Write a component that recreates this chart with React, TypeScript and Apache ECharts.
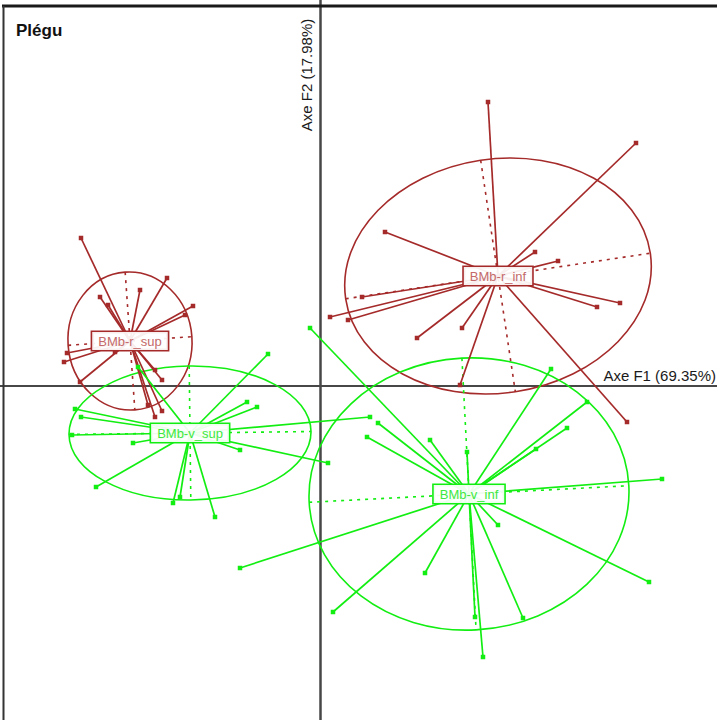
import React, { useEffect, useRef } from "react";
import * as echarts from "echarts";

// Factorial plane coordinates (F1, F2)
const groupNames = ["BMb-r_sup", "BMb-r_inf", "BMb-v_sup", "BMb-v_inf"];
const groupColors = ["#a52a2a", "#a52a2a", "#12ee12", "#12ee12"];
const labelTextColors = ["#c46a6a", "#c46a6a", "#3ee83e", "#3ee83e"];
const centerX = [-1.9, 1.78, -1.3, 1.49];
const centerY = [0.45, 1.1, -0.47, -1.08];
const ellipseRx = [0.62, 1.54, 1.21, 1.6];
const ellipseRy = [0.69, 1.17, 0.67, 1.36];
const ellipseAngle = [4, 8.5, 0.7, 3];

const pointsRSup: [number, number][] = [
  [-2.39, 1.48], [-1.53, 1.08], [-1.8, 0.96], [-2.2, 0.89], [-2.12, 0.81],
  [-1.27, 0.8], [-1.35, 0.71], [-2.53, 0.33], [-2.56, 0.24], [-2.4, 0.04],
  [-2.05, 0.34], [-1.58, 0.06], [-1.65, 0.16], [-1.65, -0.31], [-1.58, -0.25],
  [-1.72, -0.19],
];
const pointsRInf: [number, number][] = [
  [1.68, 2.84], [3.16, 2.43], [0.65, 1.54], [2.15, 1.34], [2.38, 1.25],
  [0.42, 0.89], [0.1, 0.69], [0.28, 0.66], [3.0, 0.83], [2.77, 0.79],
  [1.42, 0.58], [0.97, 0.48], [1.4, 0.01], [3.07, -0.36],
];
const pointsVSup: [number, number][] = [
  [-0.52, 0.32], [-1.82, 0.19], [-0.73, -0.16], [-0.63, -0.21], [-2.45, -0.23],
  [-2.39, -0.31], [-2.48, -0.49], [-1.87, -0.57], [-0.8, -0.64], [0.5, -0.31],
  [0.08, -0.77], [-2.24, -1.01], [-1.47, -1.17], [-1.05, -1.31], [-1.4, -1.11],
];
const pointsVInf: [number, number][] = [
  [-0.1, 0.58], [0.58, -0.37], [0.47, -0.51], [1.1, -0.54], [1.47, -0.66],
  [2.31, 0.17], [2.67, -0.16], [2.47, -0.42], [2.16, -0.63], [3.42, -0.93],
  [1.78, -1.39], [-0.8, -1.82], [1.05, -1.87], [0.13, -2.26], [2.03, -2.32],
  [3.29, -1.96], [1.63, -2.71], [1.55, -2.31],
];
const groupPoints = [pointsRSup, pointsRInf, pointsVSup, pointsVInf];

const xMin = -3.2, xMax = 3.97, yMin = -3.34, yMax = 3.86;
const titleText = "Plégu";
const xAxisTitle = "Axe F1 (69.35%)";
const yAxisTitle = "Axe F2 (17.98%)";

export default function App() {
  const ref = useRef<HTMLDivElement>(null);
  useEffect(() => {
    document.body.style.margin = "0";
    const chart = echarts.init(ref.current!, null, { renderer: "svg" });
    const font = "'Liberation Sans', Arial, sans-serif";

    const series: any[] = [];
    // ellipses with their axes
    series.push({
      type: "custom",
      z: 2,
      encode: { x: 0, y: 1 },
      data: groupNames.map((_, i) => [centerX[i], centerY[i], ellipseRx[i], ellipseRy[i], ellipseAngle[i], i]),
      renderItem: (params: any, api: any) => {
        const c = api.coord([api.value(0), api.value(1)]);
        const s = api.size([api.value(2), api.value(3)]);
        const col = groupColors[api.value(5)];
        const dash = { stroke: col, lineWidth: 1.6, lineDash: [3, 5], fill: "none" };
        return {
          type: "group",
          x: c[0],
          y: c[1],
          rotation: (api.value(4) * Math.PI) / 180,
          children: [
            { type: "ellipse", shape: { cx: 0, cy: 0, rx: s[0], ry: s[1] }, style: { stroke: col, lineWidth: 1.6, fill: "none" } },
            { type: "line", shape: { x1: -s[0], y1: 0, x2: s[0], y2: 0 }, style: dash },
            { type: "line", shape: { x1: 0, y1: -s[1], x2: 0, y2: s[1] }, style: dash },
          ],
        };
      },
    });
    groupPoints.forEach((pts, g) => {
      series.push({
        type: "custom",
        z: 3,
        encode: { x: 0, y: 1 },
        data: pts.map((p) => [p[0], p[1], centerX[g], centerY[g]]),
        renderItem: (params: any, api: any) => {
          const p = api.coord([api.value(0), api.value(1)]);
          const c = api.coord([api.value(2), api.value(3)]);
          return {
            type: "line",
            shape: { x1: c[0], y1: c[1], x2: p[0], y2: p[1] },
            style: { stroke: groupColors[g], lineWidth: 1.7 },
          };
        },
      });
      series.push({
        type: "scatter",
        z: 4,
        symbol: "rect",
        symbolSize: 4.5,
        itemStyle: { color: groupColors[g], opacity: 1 },
        data: pts,
      });
    });
    series.push({
      type: "scatter",
      z: 10,
      symbolSize: 2,
      itemStyle: { color: "rgba(0,0,0,0)", opacity: 1 },
      data: groupNames.map((n, i) => ({
        name: n,
        value: [centerX[i], centerY[i]],
        label: {
          show: true,
          position: "inside",
          formatter: "{b}",
          fontFamily: font,
          fontSize: 13,
          opacity: 1,
          color: labelTextColors[i],
          backgroundColor: "rgba(255,255,255,0.92)",
          borderColor: groupColors[i],
          borderWidth: 1.6,
          padding: [3, 6, 2, 6],
        },
      })),
    });

    chart.setOption({
      animation: false,
      grid: { left: 0, right: 0, top: 0, bottom: 0 },
      xAxis: {
        type: "value", min: xMin, max: xMax,
        axisLine: { onZero: true, lineStyle: { color: "#474747", width: 2 } },
        axisTick: { show: false }, axisLabel: { show: false }, splitLine: { show: false },
      },
      yAxis: {
        type: "value", min: yMin, max: yMax,
        axisLine: { onZero: true, lineStyle: { color: "#474747", width: 2.5 } },
        axisTick: { show: false }, axisLabel: { show: false }, splitLine: { show: false },
      },
      graphic: [
        { type: "line", z: 20, shape: { x1: 2, y1: 6, x2: 717, y2: 6 }, style: { stroke: "#1a1a1a", lineWidth: 3 } },
        { type: "line", z: 20, shape: { x1: 3.5, y1: 6, x2: 3.5, y2: 720 }, style: { stroke: "#333", lineWidth: 2 } },
        { type: "text", z: 20, x: 16, y: 30, style: { text: titleText, font: `bold 17px ${font}`, fill: "#111", verticalAlign: "middle" } },
        { type: "text", z: 20, x: 716, y: 375, style: { text: xAxisTitle, font: `15px ${font}`, fill: "#1a1a1a", align: "right", verticalAlign: "middle" } },
        { type: "text", z: 20, x: 306, y: 75, rotation: Math.PI / 2, style: { text: yAxisTitle, font: `15px ${font}`, fill: "#1a1a1a", align: "center", verticalAlign: "middle" } },
      ],
      series,
    });
    return () => chart.dispose();
  }, []);
  return <div ref={ref} style={{ width: 717, height: 720 }} />;
}
